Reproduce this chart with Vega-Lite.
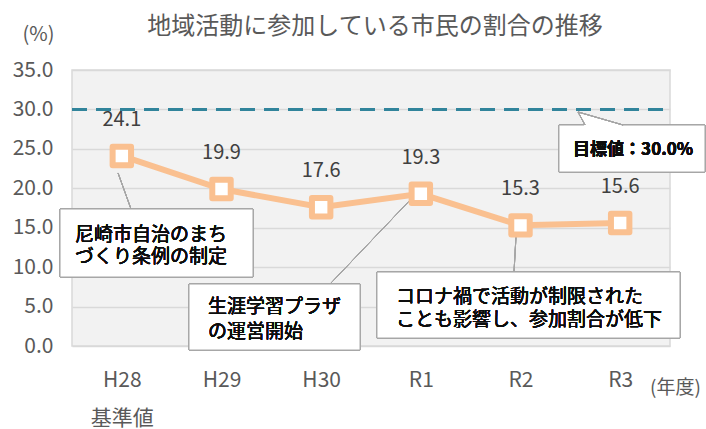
{
  "$schema": "https://vega.github.io/schema/vega-lite/v6.json",
  "width": 598,
  "height": 276,
  "autosize": {"type": "none"},
  "padding": {"left": 72, "top": 70, "right": 36, "bottom": 83},
  "background": "white",
  "config": {
    "font": "Noto Sans CJK JP",
    "view": {"fill": "#f2f2f2", "stroke": "#d9d9d9", "strokeWidth": 1.5}
  },
  "title": {
    "text": "地域活動に参加している市民の割合の推移",
    "fontSize": 24,
    "fontWeight": "normal",
    "color": "#595959",
    "anchor": "middle",
    "offset": 0,
    "dx": 4,
    "dy": 15
  },
  "data": {
    "values": [
      {"year": "H28", "idx": 0, "value": 24.1},
      {"year": "H29", "idx": 1, "value": 19.9},
      {"year": "H30", "idx": 2, "value": 17.6},
      {"year": "R1", "idx": 3, "value": 19.3},
      {"year": "R2", "idx": 4, "value": 15.3},
      {"year": "R3", "idx": 5, "value": 15.6}
    ]
  },
  "encoding": {
    "x": {
      "field": "idx",
      "type": "quantitative",
      "scale": {"domain": [-0.5, 5.5], "nice": false, "zero": false},
      "axis": {
        "values": [0, 1, 2, 3, 4, 5],
        "labelExpr": "datum.value == 0 ? ['H28', '基準値'] : ['H28','H29','H30','R1','R2','R3'][datum.value]",
        "grid": false,
        "ticks": false,
        "domain": false,
        "labelFontSize": 21,
        "labelColor": "#595959",
        "labelPadding": 23,
        "labelBaseline": "top",
        "labelLineHeight": 38,
        "labelFlush": false,
        "labelOverlap": false,
        "labelBound": false,
        "title": "(年度)",
        "titleX": 603,
        "titleY": 41,
        "titleAlign": "center",
        "titleBaseline": "middle",
        "titleFontSize": 19,
        "titleFontWeight": "normal",
        "titleColor": "#595959"
      }
    },
    "y": {
      "field": "value",
      "type": "quantitative",
      "scale": {"domain": [0, 35], "nice": false},
      "axis": {
        "values": [0, 5, 10, 15, 20, 25, 30, 35],
        "format": ".1f",
        "ticks": false,
        "domain": false,
        "gridColor": "#d9d9d9",
        "gridWidth": 1.3,
        "labelFontSize": 21,
        "labelColor": "#595959",
        "labelPadding": 19,
        "title": "(%)",
        "titleAngle": 0,
        "titleX": -34,
        "titleY": -36,
        "titleAlign": "center",
        "titleBaseline": "middle",
        "titleFontSize": 20,
        "titleFontWeight": "normal",
        "titleColor": "#595959"
      }
    }
  },
  "layer": [
    {
      "mark": {"type": "rule", "color": "#31849b", "strokeWidth": 3, "strokeDash": [15, 9]},
      "encoding": {"x": {"datum": -0.5}, "x2": {"datum": 5.5}, "y": {"datum": 30}}
    },
    {
      "mark": {"type": "rule", "color": "#a6a6a6", "strokeWidth": 1},
      "encoding": {"x": {"datum": -0.038}, "y": {"datum": 21.94}, "x2": {"datum": 0.092}, "y2": {"datum": 17.37}}
    },
    {
      "mark": {"type": "rule", "color": "#a6a6a6", "strokeWidth": 1},
      "encoding": {"x": {"datum": 2.089}, "y": {"datum": 7.86}, "x2": {"datum": 2.921}, "y2": {"datum": 18.89}}
    },
    {
      "mark": {"type": "rule", "color": "#a6a6a6", "strokeWidth": 1},
      "encoding": {"x": {"datum": 3.935}, "y": {"datum": 9.38}, "x2": {"datum": 3.955}, "y2": {"datum": 13.95}}
    },
    {
      "mark": {"type": "rect", "fill": "white", "stroke": "#a6a6a6", "strokeWidth": 1},
      "encoding": {"x": {"datum": -0.62}, "x2": {"datum": 1.316}, "y": {"datum": 17.37}, "y2": {"datum": 8.75}}
    },
    {
      "mark": {"type": "rect", "fill": "white", "stroke": "#a6a6a6", "strokeWidth": 1},
      "encoding": {"x": {"datum": 0.674}, "x2": {"datum": 2.39}, "y": {"datum": 7.86}, "y2": {"datum": -0.51}}
    },
    {
      "mark": {"type": "rect", "fill": "white", "stroke": "#a6a6a6", "strokeWidth": 1},
      "encoding": {"x": {"datum": 2.56}, "x2": {"datum": 5.6}, "y": {"datum": 9.38}, "y2": {"datum": 1.01}}
    },
    {
      "mark": {"type": "rect", "fill": "white", "stroke": "#a6a6a6", "strokeWidth": 1},
      "encoding": {"x": {"datum": 4.386}, "x2": {"datum": 5.851}, "y": {"datum": 28.02}, "y2": {"datum": 22.06}}
    },
    {
      "mark": {"type": "point", "shape": "M -1 -0.289 L -0.689 0.34 L 1 0.34 Z", "filled": true, "fill": "white", "strokeWidth": 0, "size": 2025, "opacity": 1},
      "encoding": {"x": {"datum": 4.803}, "y": {"datum": 28.85}}
    },
    {
      "mark": {"type": "point", "shape": "M -0.689 0.289 L -1 -0.289 L 1 0.289", "filled": false, "stroke": "#a6a6a6", "strokeWidth": 1, "size": 2025, "opacity": 1},
      "encoding": {"x": {"datum": 4.803}, "y": {"datum": 28.85}}
    },
    {
      "mark": {"type": "text", "text": ["尼崎市自治のまち", "づくり条例の制定"], "align": "left", "baseline": "middle", "fontSize": 19, "lineHeight": 22, "color": "#0d0d0d"},
      "encoding": {"x": {"datum": -0.47}, "y": {"datum": 14.08}}
    },
    {
      "mark": {"type": "text", "text": ["生涯学習プラザ", "の運営開始"], "align": "left", "baseline": "middle", "fontSize": 19, "lineHeight": 25, "color": "#0d0d0d"},
      "encoding": {"x": {"datum": 0.865}, "y": {"datum": 4.95}}
    },
    {
      "mark": {"type": "text", "text": ["コロナ禍で活動が制限された", "ことも影響し、参加割合が低下"], "align": "left", "baseline": "middle", "fontSize": 19, "lineHeight": 23, "color": "#0d0d0d"},
      "encoding": {"x": {"datum": 2.751}, "y": {"datum": 6.21}}
    },
    {
      "mark": {"type": "text", "text": "目標値：30.0%", "align": "center", "baseline": "middle", "fontSize": 17, "fontWeight": "bold", "color": "#0d0d0d"},
      "encoding": {"x": {"datum": 5.13}, "y": {"datum": 24.9}}
    },
    {
      "mark": {"type": "line", "color": "#fac090", "strokeWidth": 6},
      "encoding": {}
    },
    {
      "mark": {"type": "point", "shape": "square", "filled": true, "fill": "white", "stroke": "#fac090", "strokeWidth": 6, "strokeJoin": "round", "size": 340, "opacity": 1},
      "encoding": {}
    },
    {
      "mark": {"type": "text", "dy": -36, "fontSize": 20, "color": "#404040", "baseline": "middle"},
      "encoding": {"text": {"field": "value", "type": "quantitative", "format": ".1f"}}
    }
  ]
}
